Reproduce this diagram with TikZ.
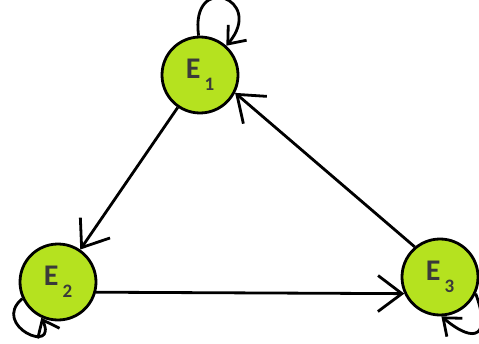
\documentclass[tikz,border=0pt]{standalone}
\usepackage{fontspec}
\setmainfont{Carlito}
\usepackage{tikz}
\usetikzlibrary{arrows.meta}
\definecolor{stateGreen}{HTML}{B5E21F}
\definecolor{labelGray}{HTML}{3A3A3A}
\newcommand{\stateLabel}[1]{E\hspace{4pt}\raisebox{-12pt}{\fontsize{19}{19}\selectfont #1}\hspace{6pt}}

\begin{document}
\begin{tikzpicture}[x=1pt,y=1pt]
      \tikzstyle{every node} = [font=\fontsize{30}{30}\selectfont\bfseries, text=labelGray]
      \tikzstyle{state} = [draw, circle, line width=2.8pt, fill=stateGreen, minimum size=76pt, inner sep=0pt]
      \tikzstyle{link} = [line width=2.8pt, -{Straight Barb[length=24pt,width=36pt]}]
      \tikzstyle{selfLink} = [line width=2.8pt, -{Straight Barb[length=15pt,width=24pt]}]
      \useasboundingbox (0,0) rectangle (479,343);
      \node[state](E1) at (200,268){\stateLabel{1}};
      \node[state](E2) at (58,61){\stateLabel{2}};
      \node[state](E3) at (440,66){\stateLabel{3}};
      % Connections
      \draw[link]
      (E1) -- (E2);
      \draw[link]
      (E2.-15) -- (E3.205);
      \draw[link]
      (E3.130) -- (E1.-27);
      % Self loops
      \draw[selfLink]
      (E1.92) .. controls +(98:65) and +(50:62) .. (E1.48);
      \draw[selfLink]
      (E2.205) .. controls +(220:42) and +(-65:42) .. (E2.245);
      \draw[selfLink]
      (E3.-25) .. controls +(-70:45) and +(-40:45) .. (E3.-88);
\end{tikzpicture}
\end{document}
